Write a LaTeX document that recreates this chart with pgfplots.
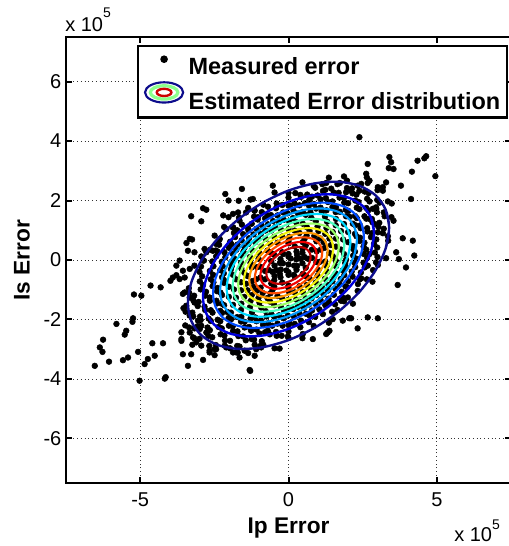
\documentclass[border=0pt]{standalone}
\usepackage{pgfplots}
\pgfplotsset{compat=1.18}
\usepackage{pgfplotstable}
\usepackage{fontspec}
\setmainfont{Liberation Sans}
\definecolor{c1}{rgb}{0.05,0.05,0.55}
\definecolor{c2}{rgb}{0,0,0.85}
\definecolor{c3}{rgb}{0,0.3,1}
\definecolor{c4}{rgb}{0,0.6,1}
\definecolor{c5}{rgb}{0,0.85,1}
\definecolor{c6}{rgb}{0.3,1,0.75}
\definecolor{c7}{rgb}{0.6,1,0.4}
\definecolor{c8}{rgb}{0.95,0.95,0.05}
\definecolor{c9}{rgb}{1,0.6,0}
\definecolor{c10}{rgb}{1,0.3,0}
\definecolor{c11}{rgb}{0.95,0,0}
\definecolor{c12}{rgb}{0.75,0,0}
% outer contour of the estimated distribution (centre offset -0.18 added when plotting)
\pgfplotstableread{
x y
3.275 0.571
3.391 1.265
3.275 1.873
2.937 2.353
2.398 2.672
1.696 2.810
0.878 2.755
0.000 2.514
-0.878 2.101
-1.696 1.544
-2.398 0.884
-2.937 0.161
-3.275 -0.571
-3.391 -1.265
-3.275 -1.873
-2.937 -2.353
-2.398 -2.672
-1.696 -2.810
-0.878 -2.755
0.000 -2.514
0.878 -2.101
1.696 -1.544
2.398 -0.884
2.937 -0.161
3.275 0.571
3.391 1.265
3.275 1.873
}\ellshape
% measured error (units of 1e5)
\pgfplotstableread{
x y
-2.13 2.22
-1.57 2.39
-2.02 2.00
-1.28 2.03
-2.88 1.74
-2.77 1.69
-3.28 1.47
-2.94 1.30
-2.20 1.50
-2.02 1.44
-1.87 1.55
-1.70 1.60
-1.67 1.42
-3.33 0.71
-3.44 0.57
-3.25 0.69
-3.39 0.31
-3.17 0.26
-3.67 -0.02
-3.90 -0.59
-3.78 -0.51
-3.98 -0.70
-3.67 -0.64
-3.50 -0.59
-4.65 -0.86
-4.31 -0.92
-5.21 -1.16
-4.96 -1.20
-3.50 -1.09
-5.24 -1.96
-5.26 -2.08
-5.80 -2.15
-5.47 -2.38
-5.52 -2.51
-6.25 -2.68
-6.36 -2.94
-6.27 -3.09
-6.05 -3.42
-6.53 -3.56
-5.58 -3.37
-5.41 -3.28
-5.07 -3.09
-4.59 -2.80
-4.23 -2.80
-4.85 -3.50
-4.74 -3.33
-4.51 -3.22
-5.02 -4.06
-4.17 -3.99
-3.61 -2.72
-3.28 -3.17
-3.39 -3.56
-2.88 -3.36
-2.49 -3.20
-1.29 -3.73
-3.56 -1.14
-3.33 -1.26
-3.45 -1.54
-3.17 -1.43
-3.33 -1.87
-3.05 -2.04
-3.33 -2.44
-3.17 -2.30
-2.94 -2.21
-2.77 -2.44
-3.11 -2.77
-2.94 -2.88
-2.66 -3.05
-2.44 -3.00
-2.10 -2.94
-1.76 -3.11
-1.48 -3.05
-3.78 -0.19
-3.56 -0.36
-3.33 -0.30
-3.17 -0.19
-2.88 -0.02
-2.94 0.12
-2.77 0.26
-2.55 0.31
-2.44 0.54
-2.32 0.71
-2.49 0.82
-2.10 1.04
-1.87 1.10
-1.43 1.60
-1.15 1.66
-1.68 1.99
2.39 4.13
2.67 3.23
2.62 2.90
2.73 2.67
3.40 3.46
3.46 3.29
3.38 3.09
3.54 3.06
4.35 3.34
4.58 3.42
4.64 3.49
4.16 2.97
4.95 2.82
3.79 2.50
3.29 2.61
3.18 2.45
3.01 2.45
4.13 2.05
-0.53 2.50
1.27 2.59
2.33 2.50
2.39 2.33
2.11 2.33
1.94 2.28
2.84 1.72
2.95 1.77
2.73 1.38
2.90 1.21
3.01 0.93
3.85 0.73
4.19 0.65
3.63 0.26
3.29 0.06
3.72 0.03
4.24 0.15
3.96 -0.25
3.68 -0.84
3.01 -0.17
2.73 0.20
2.67 -0.19
2.00 -1.26
1.77 -1.37
2.67 -1.93
3.01 -1.96
2.05 -1.96
1.83 -2.04
2.33 -2.30
1.32 -2.44
1.49 -1.99
-1.20 2.05
-1.14 1.66
-1.03 1.44
2.11 -1.96
1.47 -1.74
0.82 -2.66
0.48 -2.49
1.38 -2.38
1.27 -2.49
-0.02 -2.57
-0.30 -2.98
-1.31 -3.70
-0.92 -2.94
-1.09 -3.00
-1.14 -3.22
-1.71 -3.11
-1.65 -3.28
-2.49 -3.00
-2.15 -2.88
-2.66 -3.11
-3.56 -3.17
-3.61 -2.66
-3.22 -2.60
-4.14 -3.94
2.64 2.78
1.87 2.81
-3.61 -2.43
-3.24 -2.85
-1.87 -3.11
-0.95 -2.89
-1.87 1.09
-2.64 0.35
1.87 -1.39
2.64 -0.65
1.65 2.55
0.85 2.49
0.00 2.26
-0.85 1.86
-1.65 1.32
-2.33 0.68
-2.85 -0.02
-1.65 -2.91
-0.85 -2.85
0.00 -2.62
0.85 -2.22
1.65 -1.68
2.33 -1.04
2.85 -0.34
1.16 2.32
0.40 2.19
-0.40 1.90
-1.16 1.46
-1.84 0.91
-2.40 0.29
-1.16 -2.68
-0.40 -2.55
0.40 -2.26
1.16 -1.82
1.84 -1.27
2.40 -0.65
1.36 2.77
0.47 2.61
-0.47 2.27
-1.36 1.75
-2.17 1.11
-2.83 0.37
-1.36 -3.13
-0.47 -2.97
0.47 -2.63
1.36 -2.11
2.17 -1.47
2.83 -0.73
0.70 2.02
0.00 1.83
-0.70 1.50
-1.36 1.06
-1.92 0.53
-0.70 -2.38
0.00 -2.19
0.70 -1.86
1.36 -1.42
1.92 -0.89
3.47 1.44
3.06 1.25
2.65 1.07
2.24 0.88
1.84 0.69
1.43 0.50
3.35 1.97
2.96 1.72
2.56 1.47
2.17 1.22
1.77 0.97
1.38 0.72
3.00 2.35
2.65 2.06
2.30 1.76
1.94 1.47
1.59 1.17
1.24 0.88
2.45 2.56
2.16 2.24
1.88 1.93
1.59 1.61
1.30 1.29
1.01 0.97
1.73 2.59
1.53 2.27
1.33 1.95
1.12 1.63
0.92 1.30
0.71 0.98
0.90 2.43
0.79 2.13
0.69 1.83
0.58 1.52
0.48 1.22
0.37 0.91
0.00 2.10
0.05 1.83
-0.03 1.57
0.02 1.30
0.00 1.04
0.03 0.78
-0.90 1.61
-0.79 1.40
-0.69 1.20
-0.58 0.99
-0.48 0.78
-0.37 0.58
-1.73 1.00
-1.53 0.87
-1.33 0.73
-1.12 0.60
-0.92 0.46
-0.71 0.32
-2.45 0.32
-2.16 0.26
-1.88 0.21
-1.59 0.15
-1.30 0.10
-1.01 0.04
-3.00 -0.40
-2.65 -0.37
-2.30 -0.34
-1.94 -0.31
-1.59 -0.28
-1.24 -0.25
-3.35 -1.10
-2.96 -0.99
-2.56 -0.88
-2.17 -0.77
-1.77 -0.65
-1.38 -0.54
-3.47 -1.74
-3.06 -1.55
-2.65 -1.37
-2.24 -1.18
-1.84 -0.99
-1.43 -0.80
-3.35 -2.27
-2.96 -2.02
-2.56 -1.77
-2.17 -1.52
-1.77 -1.27
-1.38 -1.02
-3.00 -2.65
-2.65 -2.36
-2.30 -2.06
-1.94 -1.77
-1.59 -1.47
-1.24 -1.18
-2.45 -2.86
-2.16 -2.54
-1.88 -2.23
-1.59 -1.91
-1.30 -1.59
-1.01 -1.27
-1.73 -2.89
-1.53 -2.57
-1.33 -2.25
-1.12 -1.93
-0.92 -1.60
-0.71 -1.28
-0.90 -2.73
-0.79 -2.43
-0.69 -2.13
-0.58 -1.82
-0.48 -1.52
-0.37 -1.21
0.00 -2.40
0.03 -2.13
-0.02 -1.87
0.01 -1.61
0.00 -1.34
0.02 -1.08
0.90 -1.91
0.79 -1.70
0.69 -1.50
0.58 -1.29
0.48 -1.08
0.37 -0.88
1.73 -1.30
1.53 -1.17
1.33 -1.03
1.12 -0.90
0.92 -0.76
0.71 -0.62
2.45 -0.62
2.16 -0.56
1.88 -0.51
1.59 -0.45
1.30 -0.40
1.01 -0.34
3.00 0.10
2.65 0.07
2.30 0.04
1.94 0.01
1.59 -0.02
1.24 -0.05
3.35 0.80
2.96 0.69
2.56 0.58
2.17 0.47
1.77 0.35
1.38 0.24
3.21 1.60
2.81 1.38
2.41 1.16
2.01 0.94
1.60 0.72
2.99 2.02
2.62 1.75
2.24 1.48
1.87 1.21
1.49 0.94
2.57 2.30
2.25 2.00
1.93 1.69
1.60 1.38
1.28 1.08
1.97 2.42
1.72 2.10
1.48 1.78
1.23 1.46
0.98 1.13
1.24 2.36
1.08 2.04
0.93 1.73
0.77 1.42
0.62 1.10
0.42 2.12
0.37 1.84
0.32 1.56
0.26 1.27
0.21 0.99
-0.42 1.74
-0.37 1.50
-0.32 1.27
-0.26 1.03
-0.21 0.79
-1.24 1.22
-1.08 1.05
-0.93 0.88
-0.77 0.71
-0.62 0.54
-1.97 0.61
-1.72 0.52
-1.48 0.42
-1.23 0.33
-0.98 0.23
-2.57 -0.05
-2.25 -0.06
-1.93 -0.07
-1.60 -0.09
-1.28 -0.10
-2.99 -0.72
-2.62 -0.65
-2.24 -0.58
-1.87 -0.50
-1.49 -0.43
-3.21 -1.35
-2.81 -1.20
-2.41 -1.05
-2.01 -0.90
-1.60 -0.75
-3.21 -1.90
-2.81 -1.68
-2.41 -1.46
-2.01 -1.24
-1.60 -1.02
-2.99 -2.32
-2.62 -2.05
-2.24 -1.78
-1.87 -1.51
-1.49 -1.24
-2.57 -2.60
-2.25 -2.30
-1.93 -1.99
-1.60 -1.68
-1.28 -1.38
-1.97 -2.72
-1.72 -2.40
-1.48 -2.08
-1.23 -1.76
-0.98 -1.43
-1.24 -2.66
-1.08 -2.34
-0.93 -2.03
-0.77 -1.72
-0.62 -1.40
-0.42 -2.42
-0.37 -2.14
-0.32 -1.86
-0.26 -1.57
-0.21 -1.29
0.42 -2.04
0.37 -1.80
0.32 -1.57
0.26 -1.33
0.21 -1.09
1.24 -1.52
1.08 -1.35
0.93 -1.18
0.77 -1.01
0.62 -0.84
1.97 -0.91
1.72 -0.82
1.48 -0.72
1.23 -0.63
0.98 -0.53
2.57 -0.25
2.25 -0.24
1.93 -0.23
1.60 -0.21
1.28 -0.20
2.99 0.42
2.62 0.35
2.24 0.28
1.87 0.20
1.49 0.13
3.21 1.05
2.81 0.90
2.41 0.75
2.01 0.60
1.60 0.45
3.24 1.47
2.83 1.27
2.43 1.07
3.07 1.93
2.69 1.67
2.30 1.41
2.70 2.25
2.36 1.95
2.02 1.65
2.14 2.41
1.87 2.09
1.60 1.77
1.44 2.40
1.26 2.08
1.08 1.76
0.63 2.20
0.55 1.91
0.48 1.61
-0.21 1.85
-0.18 1.60
-0.16 1.35
-1.04 1.36
-0.91 1.18
-0.78 0.99
-1.80 0.77
-1.58 0.66
-1.35 0.54
-2.44 0.12
-2.13 0.09
-1.83 0.05
-2.91 -0.55
-2.54 -0.50
-2.18 -0.45
-3.18 -1.20
-2.78 -1.07
-2.39 -0.94
-3.24 -1.77
-2.83 -1.57
-2.43 -1.37
-3.07 -2.23
-2.69 -1.97
-2.30 -1.71
-2.70 -2.55
-2.36 -2.25
-2.02 -1.95
-2.14 -2.71
-1.87 -2.39
-1.60 -2.07
-1.44 -2.70
-1.26 -2.38
-1.08 -2.06
-0.63 -2.50
-0.55 -2.21
-0.48 -1.91
0.21 -2.15
0.18 -1.90
0.16 -1.65
1.04 -1.66
0.91 -1.48
0.78 -1.29
1.80 -1.07
1.58 -0.96
1.35 -0.84
2.44 -0.42
2.13 -0.39
1.83 -0.35
2.91 0.25
2.54 0.20
2.18 0.15
3.18 0.90
2.78 0.77
2.39 0.64
3.48 1.90
2.98 1.60
2.62 1.39
2.25 1.17
3.18 2.33
2.73 1.97
2.39 1.71
2.06 1.45
2.67 2.59
2.29 2.20
2.01 1.91
1.73 1.62
1.97 2.67
1.69 2.26
1.48 1.97
1.28 1.67
1.14 2.55
0.98 2.17
0.86 1.88
0.74 1.60
0.23 2.25
0.20 1.91
0.17 1.66
0.15 1.41
-0.69 1.79
-0.59 1.51
-0.52 1.31
-0.45 1.11
-1.57 1.19
-1.35 1.00
-1.18 0.86
-1.02 0.72
-2.34 0.51
-2.01 0.41
-1.76 0.34
-1.52 0.28
-2.95 -0.22
-2.53 -0.21
-2.22 -0.21
-1.91 -0.20
-3.36 -0.95
-2.88 -0.84
-2.53 -0.75
-2.18 -0.67
-3.54 -1.62
-3.03 -1.41
-2.66 -1.26
-2.29 -1.10
-3.48 -2.20
-2.98 -1.90
-2.62 -1.69
-2.25 -1.47
-3.18 -2.63
-2.73 -2.27
-2.39 -2.01
-2.06 -1.75
-2.67 -2.89
-2.29 -2.50
-2.01 -2.21
-1.73 -1.92
-1.97 -2.97
-1.69 -2.56
-1.48 -2.27
-1.28 -1.97
-1.14 -2.85
-0.98 -2.47
-0.86 -2.18
-0.74 -1.90
-0.23 -2.55
-0.20 -2.21
-0.17 -1.96
-0.15 -1.71
0.69 -2.09
0.59 -1.81
0.52 -1.61
0.45 -1.41
1.57 -1.49
1.35 -1.30
1.18 -1.16
1.02 -1.02
2.34 -0.81
2.01 -0.71
1.76 -0.64
1.52 -0.58
2.95 -0.08
2.53 -0.09
2.22 -0.09
1.91 -0.10
3.36 0.65
2.88 0.54
2.53 0.45
2.18 0.37
3.54 1.32
3.03 1.11
2.66 0.96
2.29 0.80
1.09 0.35
0.94 0.63
0.54 0.71
0.00 0.56
-0.54 0.21
-0.94 -0.23
-1.09 -0.65
-0.94 -0.93
-0.54 -1.01
0.00 -0.86
0.54 -0.51
0.94 -0.07
0.79 0.35
0.58 0.49
0.21 0.46
-0.21 0.26
-0.58 -0.04
-0.79 -0.37
-0.79 -0.65
-0.58 -0.79
-0.21 -0.76
0.21 -0.56
0.58 -0.26
0.79 0.07
0.54 0.10
0.47 0.24
0.27 0.28
0.00 0.20
-0.27 0.03
-0.47 -0.19
-0.54 -0.40
-0.47 -0.54
-0.27 -0.58
0.00 -0.50
0.27 -0.33
0.47 -0.11
0.26 0.02
0.07 0.05
-0.19 -0.11
-0.26 -0.32
-0.07 -0.35
0.19 -0.19
0.00 -0.15
0.87 0.81
-0.87 -1.11
1.18 0.60
-1.18 -0.90
1.22 0.41
1.06 0.73
0.61 0.82
0.00 0.64
-0.61 0.26
-1.06 -0.24
-1.22 -0.71
-1.06 -1.03
-0.61 -1.12
0.00 -0.94
0.61 -0.56
1.06 -0.06
0.48 0.38
-0.18 0.20
-0.66 -0.34
-0.48 -0.68
0.18 -0.50
0.66 0.04
0.95 0.29
0.48 0.60
-0.48 0.17
-0.95 -0.59
-0.48 -0.90
0.48 -0.47
0.29 0.17
-0.29 -0.10
-0.29 -0.47
0.29 -0.20
0.41 0.04
0.00 0.11
-0.41 -0.34
0.00 -0.41
}\measured
\begin{document}
\begin{tikzpicture}
\begin{axis}[
  set layers=standard,
  scale only axis, width=333.75pt, height=334.5pt,
  xmin=-7.5, xmax=7.5, ymin=-7.5, ymax=7.5,
  xtick={-5,0,5}, ytick={-6,-4,-2,0,2,4,6},
  scaled ticks=false,
  /pgf/number format/assume math mode=true,
  grid=major,
  grid style={black!80, line width=0.6pt, dash pattern=on 0.6pt off 2.2pt},
  axis line style={line width=2pt, black},
  tick style={line width=1.5pt, black},
  major tick length=4.5pt, tick align=inside,
  ticklabel style={font=\fontsize{15}{18}\selectfont},
  xticklabel style={yshift=-3.5pt},
  xlabel={Ip Error}, ylabel={Is Error},
  label style={font=\fontsize{17}{20}\selectfont\bfseries},
  xlabel style={at={(rel axis cs:0.5,0)}, anchor=base, yshift=-37.5pt},
  ylabel style={at={(rel axis cs:0,0.5)}, anchor=center, rotate=0, yshift=33pt},
  legend cell align=left,
  legend style={at={(rel axis cs:0.1596,0.982)}, anchor=north west,
    draw=black, line width=1.8pt, fill=white,
    inner xsep=3pt, inner ysep=3pt, row sep=2.25pt,
    font=\fontsize{17.6}{20}\selectfont\bfseries,
    nodes={inner ysep=0pt, inner xsep=2pt, text height=18pt, text depth=3pt}},
  contour/.style={line width=1.6pt, smooth, on layer=axis foreground},
]
\addplot[only marks, mark=*, mark size=2.15pt, black,
  legend image code/.code={\path (0pt,0pt) (31pt,0pt); \fill[black] (15.5pt,3.75pt) circle (1.9pt);}]
  table {\measured};
\addlegendentry{Measured error}
\addplot[c1, contour, line width=1.8pt,
  legend image code/.code={\path (0pt,0pt) (31pt,0pt);
    \draw[line width=1.6pt, c1] (15.5pt,5.25pt) ellipse (14.3pt and 7.6pt);
    \draw[line width=2.4pt, green!45] (15.5pt,5.25pt) ellipse (10.3pt and 5pt);
    \draw[line width=1.8pt, red!80!black] (15.5pt,5.25pt) ellipse (5.5pt and 2.7pt);}]
  table[x expr=\thisrow{x}, y expr=\thisrow{y}-0.18] {\ellshape};
\addlegendentry{Estimated Error distribution}
\addplot[c2, contour, line width=1.8pt, forget plot] table[x expr=0.85*\thisrow{x}, y expr=0.85*\thisrow{y}-0.18] {\ellshape};
\addplot[c3, contour, forget plot] table[x expr=0.75*\thisrow{x}, y expr=0.75*\thisrow{y}-0.18] {\ellshape};
\addplot[c4, contour, forget plot] table[x expr=0.68*\thisrow{x}, y expr=0.68*\thisrow{y}-0.18] {\ellshape};
\addplot[c5, contour, forget plot] table[x expr=0.615*\thisrow{x}, y expr=0.615*\thisrow{y}-0.18] {\ellshape};
\addplot[c6, contour, forget plot] table[x expr=0.555*\thisrow{x}, y expr=0.555*\thisrow{y}-0.18] {\ellshape};
\addplot[c7, contour, forget plot] table[x expr=0.50*\thisrow{x}, y expr=0.50*\thisrow{y}-0.18] {\ellshape};
\addplot[c8, contour, forget plot] table[x expr=0.445*\thisrow{x}, y expr=0.445*\thisrow{y}-0.18] {\ellshape};
\addplot[c9, contour, forget plot] table[x expr=0.39*\thisrow{x}, y expr=0.39*\thisrow{y}-0.18] {\ellshape};
\addplot[c10, contour, forget plot] table[x expr=0.335*\thisrow{x}, y expr=0.335*\thisrow{y}-0.18] {\ellshape};
\addplot[c11, contour, forget plot] table[x expr=0.28*\thisrow{x}, y expr=0.28*\thisrow{y}-0.18] {\ellshape};
\addplot[c12, contour, forget plot] table[x expr=0.22*\thisrow{x}, y expr=0.22*\thisrow{y}-0.18] {\ellshape};
\coordinate (SW) at (rel axis cs:0,0);
\end{axis}
\node[anchor=base west, inner sep=0pt, font=\fontsize{15}{18}\selectfont] at ([xshift=-0.75pt, yshift=338.25pt]SW) {x 10\raisebox{10.5pt}{\fontsize{10.5}{12}\selectfont 5}};
\node[anchor=base west, inner sep=0pt, font=\fontsize{15}{18}\selectfont] at ([xshift=291pt, yshift=-44pt]SW) {x 10\raisebox{9pt}{\fontsize{10.5}{12}\selectfont 5}};
\pgfresetboundingbox
\useasboundingbox ([xshift=-49.5pt,yshift=-47.25pt]SW) rectangle ([xshift=332.25pt,yshift=362.25pt]SW);
\end{tikzpicture}
\end{document}
